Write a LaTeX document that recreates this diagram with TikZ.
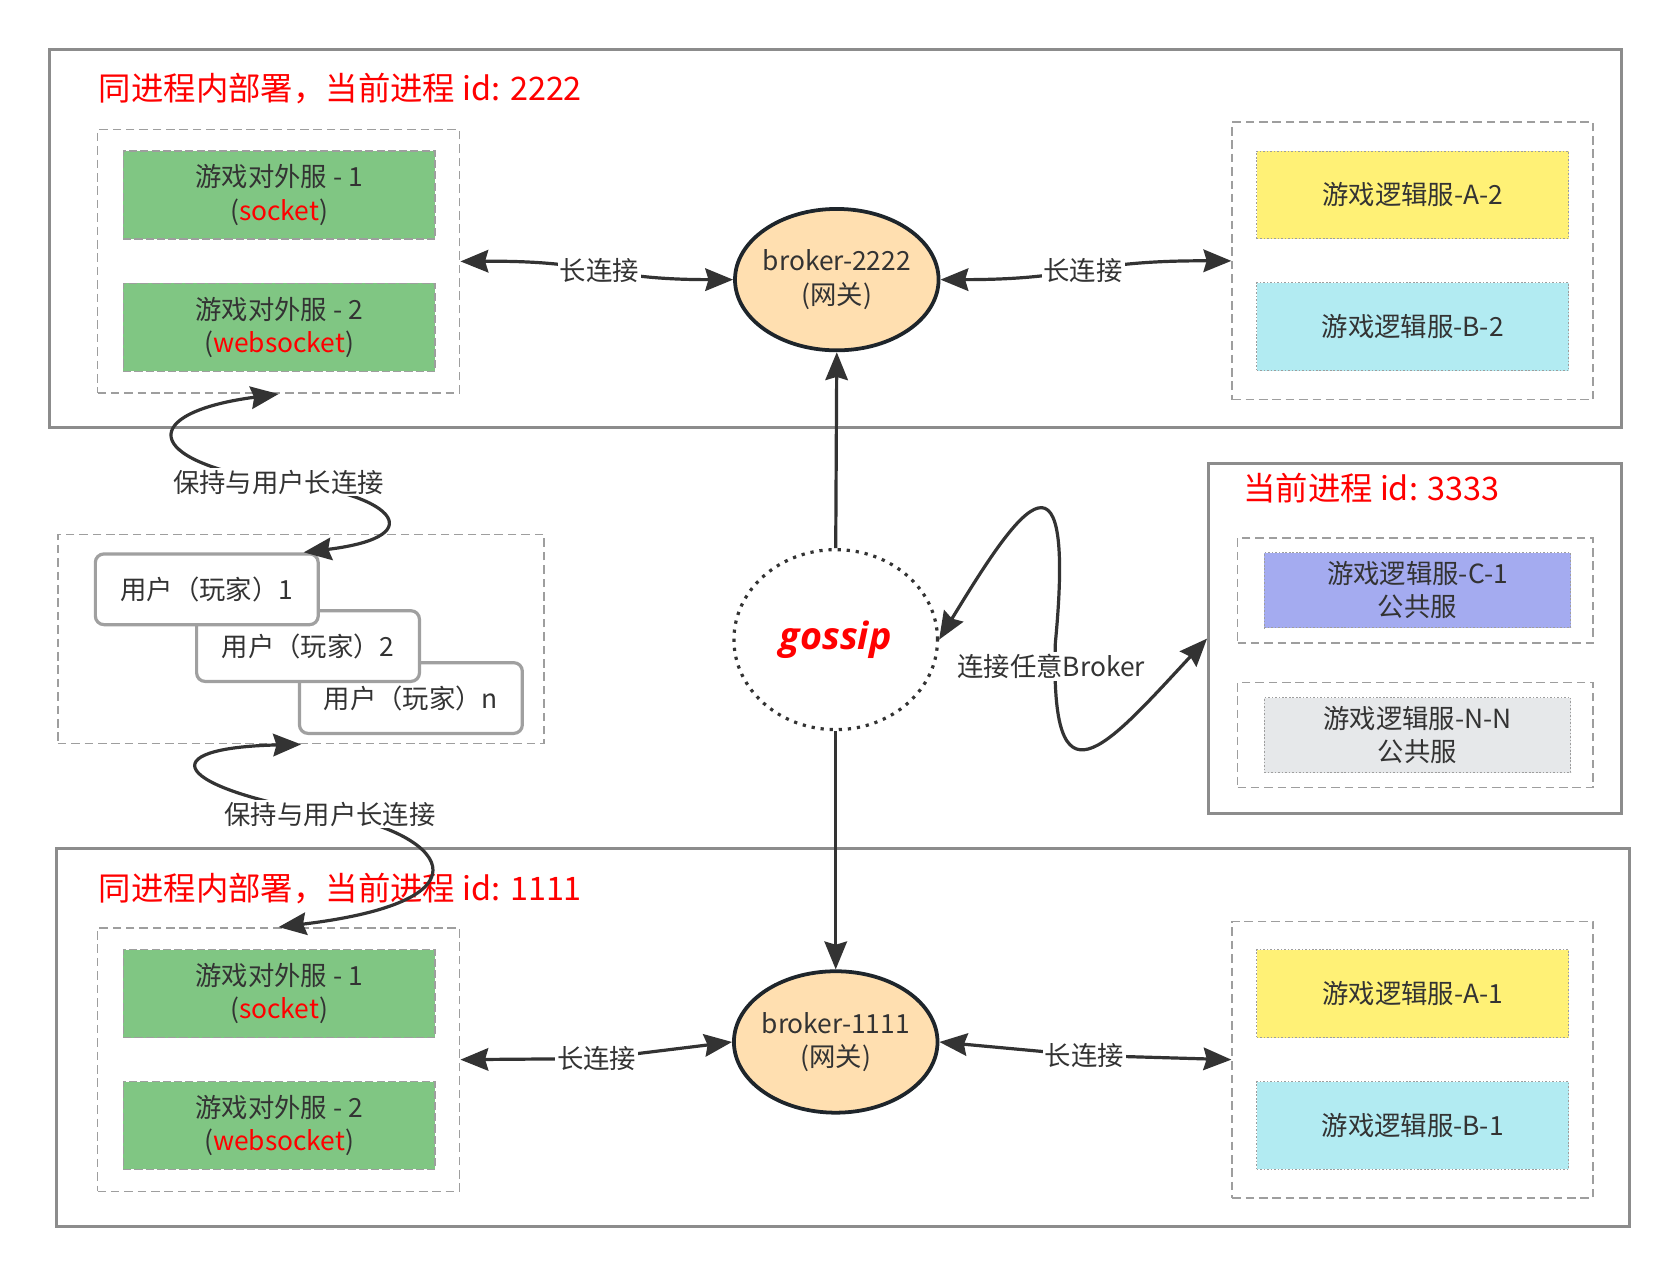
\documentclass[tikz,border=0pt]{standalone}
\usepackage{fontspec}
\setmainfont{Noto Sans CJK SC}
\newfontfamily\gossipfont{Open Sans}
\usepackage{xcolor}
\usetikzlibrary{positioning,arrows.meta,shapes.geometric}
\definecolor{ink}{HTML}{333333}
\definecolor{rim}{HTML}{8C8C8C}
\definecolor{zonegray}{HTML}{9E9E9E}
\definecolor{extgreen}{HTML}{80C683}
\definecolor{logicA}{HTML}{FFF176}
\definecolor{logicB}{HTML}{B2EBF2}
\definecolor{pubC}{HTML}{A4ABF0}
\definecolor{pubN}{HTML}{E6E8EA}
\definecolor{gwfill}{HTML}{FFDFB0}
\definecolor{gwrim}{HTML}{1E252B}
\definecolor{usergray}{HTML}{A0A0A0}
\tikzset{
  proc/.style ={rectangle, draw=rim, line width=1.6pt},
  zone/.style ={rectangle, draw=zonegray, line width=0.85pt, dash pattern=on 1.6mm off 0.9mm},
  ext/.style  ={rectangle, fill=extgreen, draw=zonegray, line width=0.7pt, dash pattern=on 1.5mm off 0.6mm,
                minimum width=58.2mm, minimum height=16.4mm, align=center},
  logic/.style={rectangle, draw=zonegray, line width=0.6pt, dash pattern=on 0.3mm off 0.35mm,
                minimum width=58.2mm, minimum height=16.4mm, align=center},
  gw/.style   ={ellipse, fill=gwfill, draw=gwrim, line width=2pt, inner xsep=-1mm, inner ysep=0pt,
                minimum width=38mm, minimum height=26.4mm, align=center},
  gossipring/.style={ellipse, draw=ink, line width=1.7pt, dash pattern=on 0.6mm off 1.1mm,
                minimum width=38mm, minimum height=33.6mm, text=red, font=\gossipfont\fontsize{20pt}{24pt}\selectfont\bfseries\itshape},
  user/.style ={rectangle, rounded corners=1.6mm, fill=white, draw=usergray, line width=1.7pt,
                minimum width=41.6mm, minimum height=13.2mm},
  ttl/.style  ={anchor=west, text=red, inner sep=0pt, font=\fontsize{17.2pt}{21pt}\selectfont},
  lbl/.style  ={fill=white, inner sep=1pt},
  link/.style ={{Stealth[length=5.2mm,width=4.2mm,inset=0.6mm]}-{Stealth[length=5.2mm,width=4.2mm,inset=0.6mm]}, draw=ink, line width=1.7pt},
  edge/.style ={-{Stealth[length=5.2mm,width=4.2mm,inset=0.6mm]}, draw=ink, line width=1.7pt},
}

\begin{document}
\begin{tikzpicture}[x=2mm, y=-2mm, text=ink, font=\fontsize{14pt}{17.6pt}\selectfont]
  \useasboundingbox (0,0) rectangle (156.8,119.1);

  % process 2222
  \node[proc, minimum width=293.4mm, minimum height=70.6mm] (p2) at (77.95,22.25) {};
  \node[ttl] (t2) at (9.2,8.3) {同进程内部署，当前进程 id: 2222};
  \node[zone, minimum width=67.6mm, minimum height=49.2mm] (ext2) at (26.0,24.4) {};
  \node[ext] (ws2a) at (26.05,18.2)  {游戏对外服 - 1\\(\textcolor{red}{socket})};
  \node[ext] (ws2b) at (26.05,30.55) {游戏对外服 - 2\\(\textcolor{red}{websocket})};
  \node[gw] (bk2) at (78.1,26.1) {broker-2222\\(网关)};
  \node[zone, minimum width=67.4mm, minimum height=51.8mm] (lg2) at (131.85,24.35) {};
  \node[logic, fill=logicA] (a2) at (131.85,18.2) {游戏逻辑服-A-2};
  \node[logic, fill=logicB] (b2) at (131.85,30.5) {游戏逻辑服-B-2};

  \node[gossipring] (gossip) at (78.0,59.7) {gossip};

  % process 3333
  \node[proc, minimum width=77mm, minimum height=65.2mm] (p3) at (132.05,59.6) {};
  \node[ttl] (t3) at (116.0,45.6) {当前进程 id: 3333};
  \node[zone, minimum width=66.4mm, minimum height=19.6mm] (zc) at (132.1,55.1) {};
  \node[logic, fill=pubC, minimum width=57.2mm, minimum height=14mm] (c1) at (132.3,55.1) {游戏逻辑服-C-1\\公共服};
  \node[zone, minimum width=66.4mm, minimum height=19.6mm] (zn) at (132.1,68.6) {};
  \node[logic, fill=pubN, minimum width=57.2mm, minimum height=14mm] (nn) at (132.3,68.6) {游戏逻辑服-N-N\\公共服};

  % users
  \node[zone, minimum width=90.8mm, minimum height=39mm] (users) at (28.1,59.65) {};
  \node[user] (un) at (38.35,65.15) {用户（玩家）n};
  \node[user] (u2) at (28.75,60.3)  {用户（玩家）2};
  \node[user] (u1) at (19.3,55.0)   {用户（玩家）1};

  % process 1111
  \node[proc, minimum width=293.6mm, minimum height=70.6mm] (p1) at (78.7,96.85) {};
  \node[ttl] (t1) at (9.2,82.9) {同进程内部署，当前进程 id: 1111};
  \node[zone, minimum width=67.6mm, minimum height=49.2mm] (ext1) at (26.0,98.9) {};
  \node[ext] (ws1a) at (26.05,92.75)  {游戏对外服 - 1\\(\textcolor{red}{socket})};
  \node[ext] (ws1b) at (26.05,105.05) {游戏对外服 - 2\\(\textcolor{red}{websocket})};
  \node[gw] (bk1) at (78.0,97.25) {broker-1111\\(网关)};
  \node[zone, minimum width=67.4mm, minimum height=51.6mm] (lg1) at (131.85,98.9) {};
  \node[logic, fill=logicA] (a1) at (131.85,92.75)  {游戏逻辑服-A-1};
  \node[logic, fill=logicB] (b1) at (131.85,105.05) {游戏逻辑服-B-1};

  % connections
  \draw[link] (ext2.east) .. controls (56,24.3) and (56,26.1) .. (bk2.west) node[pos=0.5, lbl] {长连接};
  \draw[link] (bk2.east) .. controls (101,26.1) and (101,24.3) .. (lg2.west) node[pos=0.5, lbl] {长连接};
  \draw[link] (ext1.east) -- (55.7,98.8) node[lbl] {长连接} -- (bk1.west);
  \draw[link] (bk1.east) -- (101.2,98.5) node[lbl] {长连接} -- (lg1.west);
  \draw[edge] (gossip.north) -- (bk2.south);
  \draw[edge] (gossip.south) -- (bk1.north);

  \draw[link] (gossip.east) .. controls (94.5,48.5) and (100.5,39) .. (98.5,60)
    .. controls (98,76) and (103,70) .. (p3.west);
  \node[lbl] (anyb) at (98.1,62.2) {连接任意Broker};

  \draw[link] (ext2.south) .. controls (13,38.5) and (13,43) .. (26.0,45.0)
    .. controls (36,45.8) and (41,50) .. ([xshift=-3mm]u1.north east);
  \node[lbl] (keep2) at (26.0,45.0) {保持与用户长连接};
  \draw[link] (users.south) .. controls (14,69.8) and (16,73.5) .. (30.8,76.0)
    .. controls (41,77.5) and (47,84) .. (ext1.north);
  \node[lbl] (keep1) at (30.8,76.0) {保持与用户长连接};
\end{tikzpicture}
\end{document}
